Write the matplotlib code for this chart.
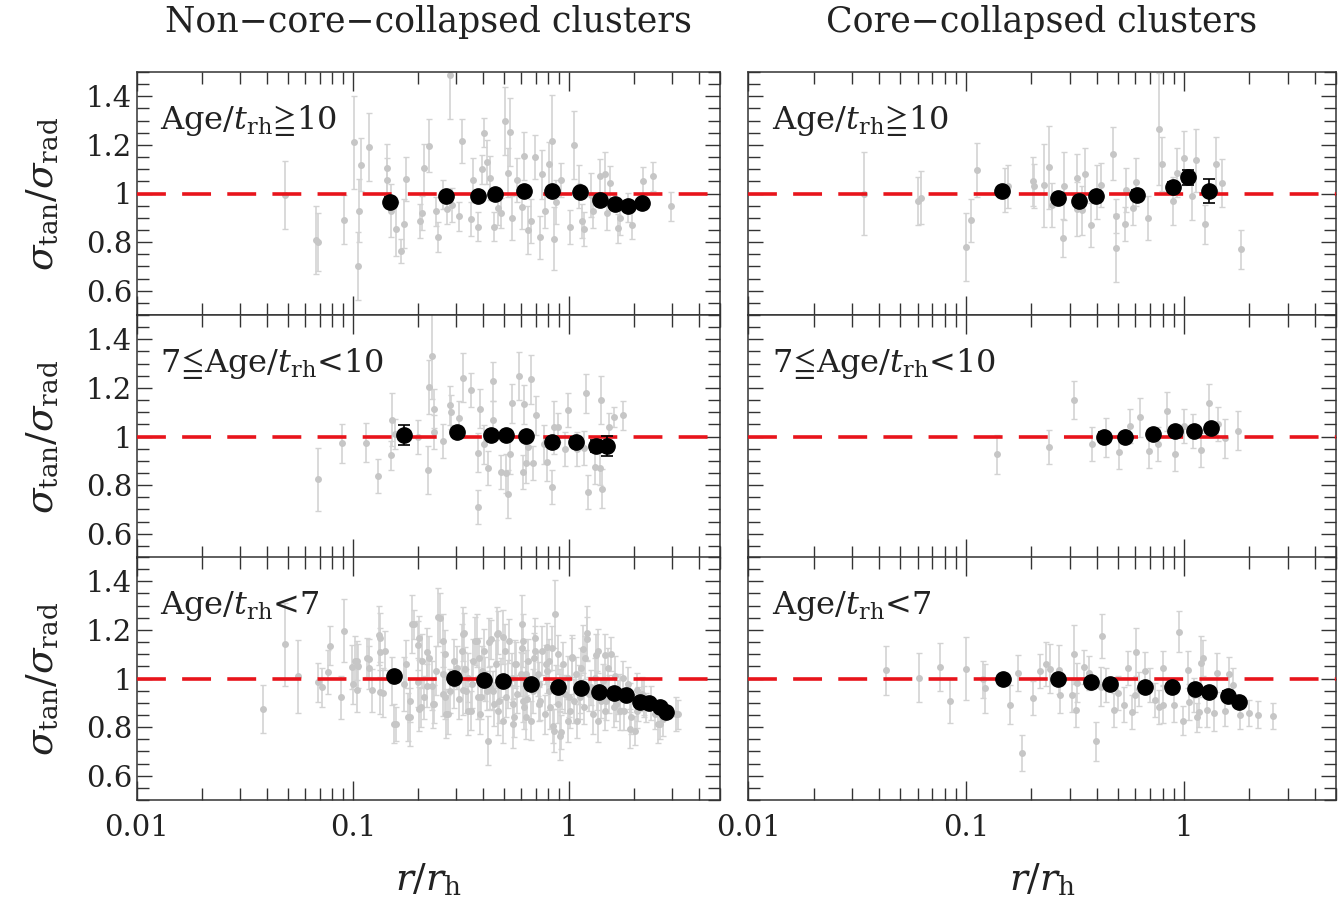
import numpy as np
import matplotlib
matplotlib.use('Agg')
import matplotlib.pyplot as plt
from matplotlib.ticker import FixedLocator, MultipleLocator, LogLocator, FuncFormatter

# ---- data: Age/t_rh >= 10, non-core-collapsed ----
nc_old_r = [0.0485, 0.0675, 0.069, 0.0906, 0.1015, 0.105, 0.107, 0.109, 0.119, 0.143,
            0.144, 0.150, 0.158, 0.166, 0.173, 0.176, 0.204, 0.209, 0.214, 0.225,
            0.243, 0.248, 0.261, 0.272, 0.281, 0.288, 0.310, 0.318, 0.351, 0.359,
            0.378, 0.396, 0.406, 0.417, 0.433, 0.449, 0.467, 0.483, 0.507, 0.520,
            0.532, 0.546, 0.574, 0.603, 0.618, 0.649, 0.665, 0.698, 0.733, 0.752,
            0.771, 0.809, 0.830, 0.850, 0.871, 0.916, 1.01, 1.06, 1.11, 1.15,
            1.17, 1.26, 1.29, 1.39, 1.46, 1.50, 1.55, 1.68, 1.73, 1.87,
            1.96, 2.20, 2.45, 2.98]
nc_old_s = [0.993, 0.807, 0.80, 0.893, 1.21, 0.70, 0.929, 1.119, 1.193, 1.103,
            1.057, 0.929, 0.854, 0.764, 0.876, 1.06, 0.886, 0.921, 1.103, 1.197,
            0.926, 0.821, 0.997, 0.936, 1.486, 0.954, 0.907, 1.217, 0.897, 1.057,
            0.864, 1.10, 1.25, 1.129, 1.064, 0.864, 0.94, 0.92, 1.30, 1.086,
            1.254, 0.90, 1.057, 0.943, 1.154, 0.85, 0.886, 1.15, 0.819, 1.079,
            0.929, 1.121, 1.214, 0.814, 0.964, 1.057, 0.861, 1.20, 1.029, 0.886,
            0.854, 0.993, 0.929, 1.071, 1.079, 0.921, 1.043, 0.857, 0.90, 0.943,
            0.871, 1.05, 1.071, 0.947]
nc_old_e = [0.14, 0.14, 0.12, 0.10, 0.19, 0.14, 0.13, 0.11, 0.14, 0.10,
            0.09, 0.11, 0.11, 0.05, 0.10, 0.09, 0.07, 0.07, 0.10, 0.11,
            0.06, 0.06, 0.06, 0.06, 0.18, 0.07, 0.06, 0.09, 0.07, 0.09,
            0.06, 0.06, 0.06, 0.09, 0.09, 0.06, 0.07, 0.06, 0.14, 0.10,
            0.14, 0.09, 0.09, 0.09, 0.10, 0.10, 0.09, 0.09, 0.09, 0.10,
            0.07, 0.09, 0.19, 0.13, 0.09, 0.07, 0.07, 0.14, 0.09, 0.07,
            0.07, 0.09, 0.07, 0.07, 0.09, 0.07, 0.07, 0.06, 0.07, 0.06,
            0.06, 0.06, 0.06, 0.06]
nc_old_bin_r = [0.148, 0.270, 0.381, 0.455, 0.618, 0.838, 1.125, 1.39, 1.64, 1.87, 2.17]
nc_old_bin_s = [0.967, 0.989, 0.99, 1.0, 1.012, 1.012, 1.006, 0.974, 0.957, 0.947, 0.96]
nc_old_bin_e = [0.02, 0.015, 0.015, 0.012, 0.012, 0.012, 0.012, 0.015, 0.015, 0.015, 0.015]

# ---- data: Age/t_rh >= 10, core-collapsed ----
cc_old_r = [0.0342, 0.0603, 0.0621, 0.100, 0.106, 0.113, 0.151, 0.156, 0.203, 0.206,
            0.228, 0.241, 0.248, 0.280, 0.283, 0.322, 0.322, 0.343, 0.351, 0.374,
            0.400, 0.417, 0.475, 0.490, 0.491, 0.536, 0.546, 0.585, 0.603, 0.686,
            0.771, 0.798, 0.897, 0.929, 1.0, 1.09, 1.14, 1.25, 1.40, 1.50,
            1.83]
cc_old_s = [1.0, 0.969, 0.983, 0.779, 0.889, 1.097, 1.014, 1.029, 1.05, 1.031,
            1.033, 1.107, 0.953, 0.817, 1.029, 1.064, 0.936, 0.931, 1.079, 0.871,
            1.007, 1.036, 1.164, 0.907, 0.776, 0.874, 1.014, 0.939, 1.047, 0.90,
            1.264, 1.121, 0.969, 1.086, 1.147, 0.989, 1.136, 0.874, 1.121, 1.043,
            0.771]
cc_old_e = [0.17, 0.10, 0.11, 0.14, 0.09, 0.11, 0.09, 0.09, 0.10, 0.09,
            0.17, 0.17, 0.09, 0.08, 0.14, 0.10, 0.11, 0.10, 0.11, 0.09,
            0.11, 0.09, 0.11, 0.07, 0.14, 0.07, 0.09, 0.07, 0.10, 0.09,
            0.23, 0.11, 0.10, 0.10, 0.11, 0.10, 0.13, 0.08, 0.11, 0.10,
            0.08]
cc_old_bin_r = [0.146, 0.265, 0.329, 0.396, 0.611, 0.889, 1.049, 1.31]
cc_old_bin_s = [1.011, 0.98, 0.971, 0.99, 0.993, 1.026, 1.066, 1.011]
cc_old_bin_e = [0.012, 0.015, 0.015, 0.015, 0.02, 0.02, 0.03, 0.05]

# ---- data: 7 <= Age/t_rh < 10, non-core-collapsed ----
nc_mid_r = [0.0692, 0.0885, 0.115, 0.131, 0.150, 0.151, 0.157, 0.199, 0.223, 0.225,
            0.233, 0.237, 0.238, 0.261, 0.281, 0.285, 0.310, 0.323, 0.351, 0.378,
            0.379, 0.387, 0.403, 0.423, 0.444, 0.445, 0.483, 0.512, 0.520, 0.532,
            0.546, 0.588, 0.611, 0.618, 0.633, 0.649, 0.665, 0.681, 0.705, 0.763,
            0.789, 0.830, 0.850, 0.893, 0.961, 0.986, 1.09, 1.17, 1.20, 1.23,
            1.32, 1.39, 1.41, 1.42, 1.53, 1.61, 1.78]
nc_mid_s = [0.824, 0.972, 0.975, 0.838, 0.923, 1.069, 1.01, 0.996, 0.862, 1.204,
            1.333, 1.115, 1.017, 0.982, 1.129, 1.101, 1.076, 1.242, 1.192, 0.933,
            0.708, 1.115, 0.968, 0.869, 1.228, 1.066, 0.855, 0.848, 0.764, 0.926,
            1.136, 1.249, 0.855, 1.133, 0.89, 0.958, 1.235, 0.89, 1.087, 0.968,
            0.897, 0.792, 1.038, 1.038, 0.947, 1.108, 0.947, 0.954, 1.178, 0.771,
            0.874, 0.869, 1.150, 0.785, 1.038, 1.08, 1.087]
nc_mid_e = [0.13, 0.08, 0.08, 0.07, 0.06, 0.11, 0.06, 0.07, 0.10, 0.11,
            0.18, 0.08, 0.07, 0.07, 0.08, 0.07, 0.07, 0.10, 0.07, 0.08,
            0.07, 0.08, 0.08, 0.07, 0.08, 0.08, 0.07, 0.08, 0.10, 0.08,
            0.08, 0.10, 0.07, 0.08, 0.08, 0.07, 0.10, 0.07, 0.08, 0.08,
            0.08, 0.07, 0.11, 0.06, 0.07, 0.07, 0.07, 0.07, 0.08, 0.07,
            0.07, 0.07, 0.10, 0.08, 0.06, 0.04, 0.06]
nc_mid_bin_r = [0.172, 0.303, 0.434, 0.512, 0.635, 0.83, 1.08, 1.34, 1.50]
nc_mid_bin_s = [1.006, 1.017, 1.008, 1.007, 1.001, 0.978, 0.978, 0.961, 0.961]
nc_mid_bin_e = [0.04, 0.02, 0.015, 0.015, 0.015, 0.015, 0.02, 0.025, 0.04]

# ---- data: 7 <= Age/t_rh < 10, core-collapsed ----
cc_mid_r = [0.139, 0.240, 0.315, 0.379, 0.440, 0.502, 0.565, 0.629, 0.695, 0.765,
            0.841, 0.909, 1.0, 1.10, 1.20, 1.31, 1.43, 1.54, 1.78]
cc_mid_s = [0.926, 0.958, 1.150, 0.968, 0.996, 0.935, 1.045, 1.08, 0.94, 0.971,
            1.104, 0.928, 1.042, 1.024, 0.944, 1.136, 1.052, 0.993, 1.024]
cc_mid_e = [0.08, 0.07, 0.08, 0.07, 0.08, 0.07, 0.07, 0.08, 0.07, 0.07,
            0.08, 0.07, 0.07, 0.07, 0.07, 0.08, 0.07, 0.08, 0.08]
cc_mid_bin_r = [0.431, 0.536, 0.723, 0.91, 1.12, 1.34]
cc_mid_bin_s = [0.997, 0.999, 1.01, 1.021, 1.024, 1.035]
cc_mid_bin_e = [0.02, 0.015, 0.015, 0.012, 0.015, 0.015]

# ---- data: Age/t_rh < 7, non-core-collapsed ----
nc_young_r = [0.0383, 0.0483, 0.0554, 0.0692, 0.0719, 0.0763, 0.0782, 0.0876, 0.0906, 0.100,
              0.1025, 0.105, 0.116, 0.118, 0.134, 0.137, 0.141, 0.152, 0.158, 0.172,
              0.183, 0.192, 0.199, 0.202, 0.206, 0.209, 0.225, 0.231, 0.238, 0.254,
              0.261, 0.267, 0.274, 0.281, 0.295, 0.302, 0.318, 0.325, 0.333, 0.341,
              0.351, 0.359, 0.367, 0.378, 0.387, 0.396, 0.406, 0.417, 0.421, 0.430,
              0.436, 0.449, 0.457, 0.469, 0.483, 0.494, 0.507, 0.513, 0.526, 0.546,
              0.558, 0.567, 0.575, 0.603, 0.618, 0.633, 0.649, 0.665, 0.681, 0.698,
              0.715, 0.733, 0.752, 0.771, 0.789, 0.809, 0.830, 0.840, 0.861, 0.871,
              0.893, 0.916, 0.938, 0.961, 0.986, 1.01, 1.035, 1.06, 1.09, 1.11,
              1.14, 1.17, 1.21, 1.24, 1.29, 1.32, 1.36, 1.41, 1.46, 1.52,
              1.57, 1.61, 1.68, 1.73, 1.79, 1.87, 1.94, 2.01, 2.08, 2.17,
              2.27, 2.39, 2.50, 2.65, 2.72, 3.18,
              0.295, 0.310, 0.33, 0.355, 0.383, 0.41, 0.445, 0.475, 0.52, 0.55,
              0.597, 0.64, 0.69, 0.725, 0.78, 0.815, 0.885, 0.93, 0.995, 1.08,
              1.13, 1.19, 1.27, 1.35, 1.44, 1.53, 1.65, 1.78, 1.91, 2.06,
              2.22, 0.261, 0.243, 0.214, 0.176,
              0.0986, 0.104, 0.1039, 0.118, 0.123, 0.132, 0.133, 0.134, 0.154, 0.179,
              0.187, 0.184, 0.200, 0.202, 0.219, 0.22, 0.248, 0.235, 0.262, 0.269,
              0.267, 0.322, 0.324, 0.34, 0.374, 0.393, 0.426, 0.463, 0.47, 0.493,
              0.548, 0.56, 0.604, 0.612, 0.63,
              0.61, 0.696, 0.788, 0.85, 0.908, 1.03, 1.21, 1.16, 1.34, 1.47,
              0.99, 1.36, 1.63, 1.92, 1.73, 2.06, 2.22, 2.59, 3.13, 0.73,
              0.908, 1.12, 1.49, 0.63, 0.81]
nc_young_s = [0.874, 1.14, 1.01, 0.984, 0.963, 1.027, 1.134, 0.922, 1.196, 0.977,
              1.073, 1.052, 1.086, 1.045, 1.168, 0.942, 1.114, 0.99, 0.812, 0.977,
              0.842, 1.223, 0.984, 1.168, 0.881, 1.073, 1.086, 0.97, 0.895, 1.25,
              1.018, 1.1, 0.853, 0.949, 0.977, 1.045, 1.114, 1.189, 0.949, 1.004,
              0.867, 1.073, 1.155, 0.922, 0.853, 1.032, 1.114, 0.949, 0.744, 0.963,
              1.162, 0.895, 1.059, 1.189, 1.004, 0.826, 1.114, 0.922, 1.155, 1.004,
              0.84, 1.059, 0.936, 1.127, 0.881, 0.99, 1.073, 0.826, 0.949, 1.168,
              1.018, 0.908, 1.114, 0.853, 1.032, 0.949, 1.127, 0.805, 1.264, 0.977,
              0.895, 0.778, 1.059, 0.936, 1.004, 0.867, 1.086, 0.908, 0.826, 0.977,
              1.045, 0.881, 1.162, 0.936, 0.853, 1.004, 1.114, 0.908, 0.867, 1.045,
              1.1, 0.881, 0.922, 0.949, 0.867, 0.977, 0.84, 0.785, 0.895, 0.936,
              0.881, 0.901, 0.853, 0.812, 0.833, 0.853,
              1.073, 0.915, 1.038, 0.977, 1.086, 0.997, 0.949, 0.908, 0.977, 0.895,
              1.018, 0.915, 1.086, 0.977, 1.059, 0.881, 1.10, 0.963, 0.922, 1.018,
              0.936, 1.086, 0.963, 0.949, 0.99, 0.936, 0.895, 1.004, 0.922, 0.867,
              0.908, 0.936, 1.032, 0.922, 1.059,
              1.047, 1.074, 0.951, 1.081, 0.951, 1.177, 1.108, 0.944, 0.814, 0.841,
              1.225, 0.909, 1.136, 0.875, 1.108, 0.971, 1.252, 0.896, 1.156, 0.855,
              0.923, 1.184, 0.951, 0.868, 1.156, 0.923, 1.149, 1.184, 0.868, 1.17,
              0.814, 1.06, 1.225, 0.909, 1.019,
              1.156, 1.115, 1.129, 0.786, 0.765, 1.088, 1.187, 1.122, 1.095, 1.095,
              0.827, 0.827, 1.012, 0.793, 0.868, 0.951, 0.923, 0.814, 0.855, 0.896,
              0.951, 0.923, 0.909, 0.841, 1.074]
nc_young_e = [0.10, 0.17, 0.15, 0.08, 0.08, 0.09, 0.08, 0.09, 0.13, 0.08,
              0.10, 0.09, 0.08, 0.09, 0.10, 0.10, 0.08, 0.10, 0.07, 0.11,
              0.12, 0.06, 0.10, 0.09, 0.08, 0.11, 0.09, 0.10, 0.08, 0.10,
              0.09, 0.10, 0.08, 0.09, 0.10, 0.09, 0.11, 0.08, 0.09, 0.10,
              0.08, 0.09, 0.10, 0.09, 0.08, 0.10, 0.09, 0.08, 0.10, 0.09,
              0.08, 0.09, 0.10, 0.09, 0.08, 0.09, 0.11, 0.08, 0.09, 0.10,
              0.08, 0.09, 0.08, 0.10, 0.09, 0.08, 0.09, 0.08, 0.09, 0.08,
              0.09, 0.08, 0.10, 0.08, 0.09, 0.08, 0.09, 0.07, 0.14, 0.08,
              0.08, 0.07, 0.09, 0.08, 0.09, 0.07, 0.08, 0.09, 0.07, 0.08,
              0.08, 0.07, 0.09, 0.07, 0.08, 0.08, 0.09, 0.07, 0.08, 0.08,
              0.07, 0.08, 0.07, 0.07, 0.08, 0.07, 0.07, 0.06, 0.07, 0.07,
              0.06, 0.07, 0.06, 0.06, 0.07, 0.06,
              0.09, 0.08, 0.09, 0.10, 0.08, 0.09, 0.08, 0.09, 0.10, 0.08,
              0.09, 0.08, 0.10, 0.09, 0.08, 0.09, 0.08, 0.09, 0.08, 0.07,
              0.08, 0.09, 0.07, 0.08, 0.07, 0.08, 0.07, 0.07, 0.06, 0.07,
              0.06, 0.09, 0.10, 0.09, 0.10,
              0.09, 0.08, 0.09, 0.08, 0.09, 0.12, 0.10, 0.09, 0.08, 0.10,
              0.12, 0.09, 0.10, 0.09, 0.10, 0.09, 0.12, 0.10, 0.11, 0.10,
              0.09, 0.11, 0.10, 0.10, 0.11, 0.09, 0.10, 0.11, 0.10, 0.11,
              0.10, 0.10, 0.12, 0.09, 0.10,
              0.11, 0.10, 0.10, 0.09, 0.10, 0.09, 0.11, 0.10, 0.09, 0.09,
              0.09, 0.09, 0.08, 0.08, 0.08, 0.07, 0.08, 0.08, 0.07, 0.07,
              0.09, 0.09, 0.08, 0.09, 0.09]
nc_young_bin_r = [0.154, 0.294, 0.403, 0.494, 0.665, 0.885, 1.14, 1.37, 1.61, 1.84,
                  2.13, 2.35, 2.64, 2.81]
nc_young_bin_s = [1.011, 1.004, 0.993, 0.988, 0.977, 0.963, 0.96, 0.944, 0.94, 0.934,
                  0.905, 0.90, 0.884, 0.862]
nc_young_bin_e = [0.012, 0.01, 0.01, 0.01, 0.01, 0.01, 0.01, 0.01, 0.01, 0.01,
                  0.01, 0.01, 0.01, 0.012]

# ---- data: Age/t_rh < 7, core-collapsed ----
cc_young_r = [0.0429, 0.0607, 0.076, 0.0849, 0.100, 0.120, 0.123, 0.160, 0.174, 0.181,
              0.203, 0.218, 0.234, 0.244, 0.267, 0.270, 0.308, 0.312, 0.319, 0.325,
              0.348, 0.367, 0.394, 0.415, 0.420, 0.44, 0.479, 0.499, 0.531, 0.553,
              0.577, 0.595, 0.607, 0.624, 0.664, 0.70, 0.736, 0.77, 0.80, 0.805,
              0.90, 0.95, 0.99, 1.05, 1.06, 1.12, 1.15, 1.18, 1.20, 1.23,
              1.28, 1.37, 1.42, 1.54, 1.62, 1.68, 1.82, 2.0, 2.20, 2.56]
cc_young_s = [1.034, 1.003, 1.047, 0.906, 1.041, 0.996, 0.959, 0.893, 1.023, 0.693,
              0.92, 1.03, 1.06, 1.04, 1.037, 0.934, 0.934, 1.099, 0.872, 0.982,
              1.048, 1.023, 0.741, 0.966, 1.175, 0.975, 0.872, 0.941, 0.893, 1.044,
              0.861, 0.931, 1.109, 0.955, 1.03, 0.975, 0.913, 0.882, 0.893, 1.044,
              0.893, 1.193, 0.827, 1.037, 0.904, 0.934, 0.84, 0.862, 1.065, 1.085,
              0.869, 0.856, 1.023, 0.865, 1.017, 0.972, 0.851, 0.858, 0.851, 0.846]
cc_young_e = [0.10, 0.10, 0.10, 0.09, 0.13, 0.075, 0.10, 0.08, 0.075, 0.075,
              0.07, 0.07, 0.09, 0.10, 0.10, 0.075, 0.07, 0.12, 0.07, 0.08,
              0.07, 0.07, 0.08, 0.08, 0.09, 0.07, 0.07, 0.07, 0.07, 0.07,
              0.07, 0.07, 0.10, 0.07, 0.08, 0.07, 0.07, 0.07, 0.075, 0.07,
              0.07, 0.085, 0.06, 0.075, 0.075, 0.07, 0.06, 0.06, 0.11, 0.075,
              0.07, 0.07, 0.08, 0.06, 0.07, 0.07, 0.06, 0.055, 0.055, 0.055]
cc_young_bin_r = [0.148, 0.265, 0.374, 0.461, 0.662, 0.88, 1.13, 1.31, 1.60, 1.80]
cc_young_bin_s = [0.997, 0.997, 0.984, 0.978, 0.967, 0.963, 0.958, 0.944, 0.927, 0.903]
cc_young_bin_e = [0.01, 0.01, 0.01, 0.01, 0.01, 0.01, 0.012, 0.015, 0.02, 0.02]

row_labels = ['Age/$t_{\\rm rh}\\!\\geqq\\!$10', '7$\\!\\leqq\\!$Age/$t_{\\rm rh}$<10',
              'Age/$t_{\\rm rh}$<7']
col_titles = ['Non\u2212core\u2212collapsed clusters', 'Core\u2212collapsed clusters']

plt.rcParams['font.family'] = ['DejaVu Serif', 'DejaVu Sans']
plt.rcParams['mathtext.fontset'] = 'dejavuserif'

W, H = 1343, 907
fig = plt.figure(figsize=(W / 100, H / 100), dpi=100)

col_x = [(137, 583), (748, 588)]
row_y = [72, 315, 557]
ph = 243

panels = [
    [(nc_old_r, nc_old_s, nc_old_e, nc_old_bin_r, nc_old_bin_s, nc_old_bin_e),
     (cc_old_r, cc_old_s, cc_old_e, cc_old_bin_r, cc_old_bin_s, cc_old_bin_e)],
    [(nc_mid_r, nc_mid_s, nc_mid_e, nc_mid_bin_r, nc_mid_bin_s, nc_mid_bin_e),
     (cc_mid_r, cc_mid_s, cc_mid_e, cc_mid_bin_r, cc_mid_bin_s, cc_mid_bin_e)],
    [(nc_young_r, nc_young_s, nc_young_e, nc_young_bin_r, nc_young_bin_s, nc_young_bin_e),
     (cc_young_r, cc_young_s, cc_young_e, cc_young_bin_r, cc_young_bin_s, cc_young_bin_e)],
]

fmt = FuncFormatter(lambda v, p: '%g' % v)

for i in range(3):
    for j in range(2):
        x0, w = col_x[j]
        ax = fig.add_axes([x0 / W, 1 - (row_y[i] + ph) / H, w / W, ph / H])
        gr, gs, ge, br, bs, be = panels[i][j]

        ax.errorbar(gr, gs, yerr=ge, fmt='o', ms=5, mfc='#c6c6c6', mec='none',
                    ecolor='#d3d3d3', elinewidth=1.2, capsize=2.5, capthick=1.0, zorder=2)
        line = ax.axhline(1.0, color='#e8141b', lw=2.6, zorder=3)
        line.set_dashes([8, 4.5])
        ax.errorbar(br, bs, yerr=be, fmt='o', ms=11, mfc='black', mec='black',
                    ecolor='black', elinewidth=1.2, capsize=4, capthick=1.2, zorder=4)

        ax.set_xscale('log')
        ax.set_xlim(0.01, 5)
        ax.set_ylim(0.5, 1.5)
        ax.yaxis.set_major_locator(FixedLocator([0.6, 0.8, 1.0, 1.2, 1.4]))
        ax.yaxis.set_minor_locator(MultipleLocator(0.05))
        ax.xaxis.set_major_locator(FixedLocator([0.01, 0.1, 1]))
        ax.xaxis.set_minor_locator(LogLocator(base=10, subs=np.arange(2, 10)))
        ax.tick_params(which='both', direction='in', top=True, right=True,
                       width=1.0, color='#333333', labelsize=21, labelcolor='#222222')
        ax.tick_params(which='major', length=14)
        ax.tick_params(which='minor', length=8.5)
        ax.tick_params(axis='y', which='major', length=11)
        ax.xaxis.set_major_formatter(fmt)
        ax.yaxis.set_major_formatter(fmt)
        ax.xaxis.set_minor_formatter(FuncFormatter(lambda v, p: ''))
        for s in ax.spines.values():
            s.set_linewidth(1.1)
            s.set_color('#333333')

        if j == 1:
            ax.set_yticklabels([])
        else:
            ax.set_ylabel('$\\sigma_{\\rm tan}/\\sigma_{\\rm rad}$', fontsize=27, color='#222222')
            ax.yaxis.set_label_coords(-0.13, 0.5)
        if i < 2:
            ax.set_xticklabels([])
        else:
            ax.tick_params(axis='x', pad=10)
            ax.set_xlabel('$r/r_{\\rm h}$', fontsize=27, color='#222222', labelpad=14)

        ax.text(0.04, 0.80, row_labels[i], transform=ax.transAxes, fontsize=23,
                color='#222222', va='center', ha='left')

for j in range(2):
    x0, w = col_x[j]
    fig.text((x0 + w / 2) / W, 1 - 22 / H, col_titles[j], ha='center', va='center',
             fontsize=25, color='#222222')

fig.savefig('out.png', dpi=100)
